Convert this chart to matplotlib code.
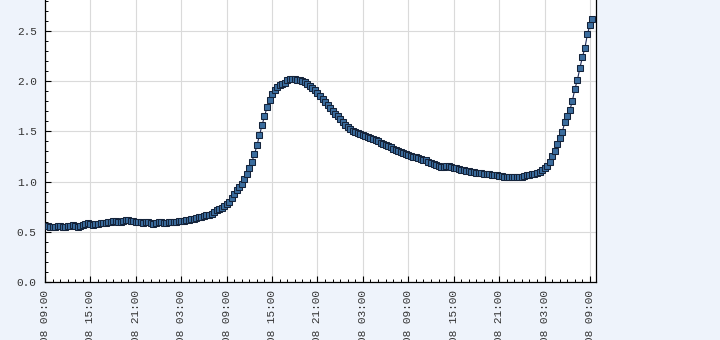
import numpy as np
import pandas as pd
import matplotlib
matplotlib.use("Agg")
from matplotlib import pyplot as plt
import matplotlib.dates as mdates

# readings every 20 minutes, starting 09:00 on day 1
start_time = "2008-05-14 09:00"
step = "20min"
values = [
    0.56, 0.56, 0.55, 0.55, 0.55, 0.56, 0.56, 0.55, 0.55, 0.56, 0.56, 0.57,
    0.56, 0.55, 0.56, 0.57, 0.58, 0.59, 0.58, 0.57, 0.58, 0.58, 0.59, 0.59,
    0.59, 0.60, 0.60, 0.61, 0.61, 0.60, 0.60, 0.61, 0.62, 0.62, 0.61, 0.61,
    0.60, 0.60, 0.60, 0.59, 0.60, 0.60, 0.59, 0.58, 0.59, 0.60, 0.60, 0.59,
    0.59, 0.60, 0.60, 0.60, 0.60, 0.61, 0.61, 0.61, 0.62, 0.62, 0.63, 0.63,
    0.64, 0.65, 0.65, 0.66, 0.67, 0.67, 0.68, 0.70, 0.72, 0.73, 0.74, 0.76,
    0.78, 0.80, 0.84, 0.88, 0.92, 0.95, 0.98, 1.03, 1.08, 1.14, 1.20, 1.27,
    1.36, 1.46, 1.56, 1.65, 1.74, 1.81, 1.87, 1.91, 1.94, 1.96, 1.97, 1.98,
    2.01, 2.02, 2.02, 2.02, 2.01, 2.01, 2.00, 1.99, 1.97, 1.95, 1.93, 1.91,
    1.88, 1.85, 1.82, 1.79, 1.76, 1.73, 1.70, 1.67, 1.65, 1.62, 1.59, 1.56,
    1.54, 1.52, 1.50, 1.49, 1.48, 1.47, 1.46, 1.45, 1.44, 1.43, 1.42, 1.41,
    1.40, 1.38, 1.37, 1.36, 1.35, 1.34, 1.32, 1.31, 1.30, 1.29, 1.28, 1.27,
    1.26, 1.25, 1.24, 1.24, 1.23, 1.22, 1.21, 1.21, 1.20, 1.19, 1.18, 1.17,
    1.16, 1.15, 1.15, 1.16, 1.16, 1.15, 1.14, 1.14, 1.13, 1.12, 1.12, 1.11,
    1.11, 1.10, 1.10, 1.09, 1.09, 1.09, 1.08, 1.08, 1.08, 1.07, 1.07, 1.07,
    1.06, 1.06, 1.05, 1.05, 1.05, 1.05, 1.05, 1.05, 1.05, 1.05, 1.06, 1.07,
    1.07, 1.08, 1.08, 1.09, 1.10, 1.12, 1.14, 1.16, 1.20, 1.25, 1.30, 1.37,
    1.43, 1.49, 1.59, 1.65, 1.71, 1.80, 1.92, 2.01, 2.13, 2.24, 2.33, 2.47,
    2.56, 2.62,
]
x_end = "2008-05-17 09:48"
y_max = 3.0
y_major = [0.0, 0.5, 1.0, 1.5, 2.0, 2.5, 3.0]

times = pd.date_range(start_time, periods=len(values), freq=step)

plt.rcParams['font.family'] = ['Liberation Mono', 'DejaVu Sans Mono']

fig = plt.figure(figsize=(7.2, 3.4), dpi=100, facecolor='#eef3fb')
ax = fig.add_axes([0.0625, 0.1706, 0.7653, 0.886])
ax.set_facecolor('white')

ax.plot(times, values, color='#1c2a5a', linewidth=0.8,
        marker='s', markersize=3.7, markerfacecolor='#3b6d9e',
        markeredgecolor='#14233a', markeredgewidth=0.75, zorder=3)

ax.set_xlim(pd.Timestamp(start_time), pd.Timestamp(x_end))
ax.set_ylim(0, y_max)

ax.xaxis.set_major_locator(mdates.HourLocator(byhour=[3, 9, 15, 21]))
ax.xaxis.set_minor_locator(mdates.HourLocator())
ax.xaxis.set_major_formatter(mdates.DateFormatter('%m/%d/%Y %H:%M'))
ax.set_yticks(y_major)
ax.yaxis.set_major_formatter(plt.FormatStrFormatter('%.1f'))
ax.yaxis.set_minor_locator(plt.MultipleLocator(0.1))

ax.grid(True, which='major', color='#dadada', linewidth=0.8)
ax.set_axisbelow(True)

ax.tick_params(which='both', direction='in', colors='black', labelcolor='#333333',
               labelsize=8)
ax.tick_params(which='major', length=4.5, width=0.8)
ax.tick_params(which='minor', length=2.5, width=0.7)
ax.tick_params(axis='x', which='major', pad=6, labelrotation=90)
ax.tick_params(axis='y', which='major', pad=6)
for lab in ax.get_xticklabels():
    lab.set_verticalalignment('top')

for side in ['left', 'bottom', 'right', 'top']:
    ax.spines[side].set_color('black')
    ax.spines[side].set_linewidth(0.9)

fig.savefig('out.png', dpi=100, facecolor=fig.get_facecolor())
